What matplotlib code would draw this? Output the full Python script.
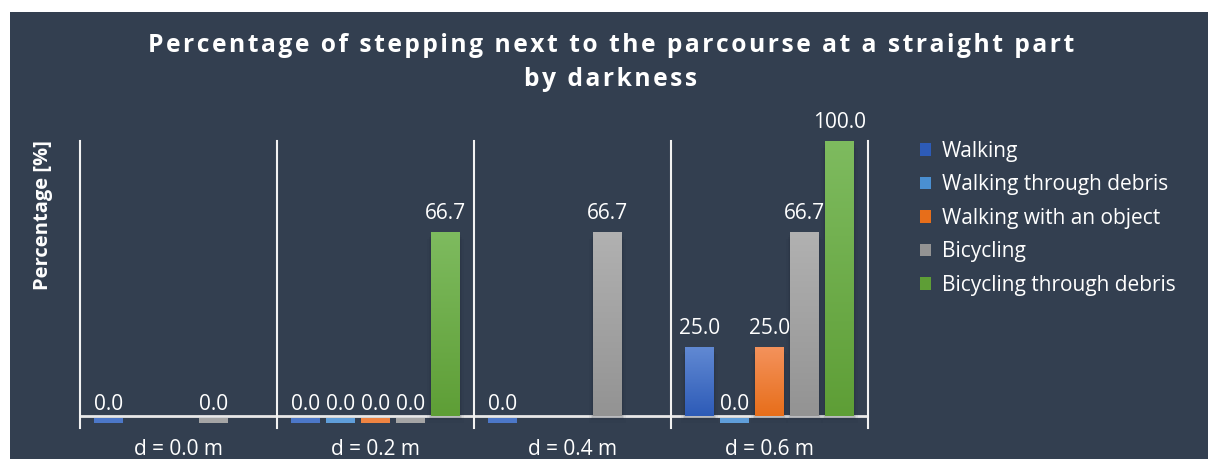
import matplotlib
matplotlib.use("Agg")
import matplotlib.pyplot as plt
import numpy as np
from matplotlib.colors import LinearSegmentedColormap
from matplotlib.patches import Rectangle

# data (None = no bar for that series)
distances = ['d = 0.0 m', 'd = 0.2 m', 'd = 0.4 m', 'd = 0.6 m']
walking = [0.0, 0.0, 0.0, 25.0]
walking_debris = [None, 0.0, None, 0.0]
walking_object = [None, 0.0, None, 25.0]
bicycling = [0.0, 0.0, 66.7, 66.7]
bicycling_debris = [None, 66.7, None, 100.0]

series_names = ['Walking', 'Walking through debris', 'Walking with an object',
                'Bicycling', 'Bicycling through debris']
series_values = [walking, walking_debris, walking_object, bicycling, bicycling_debris]
# (top, bottom) colours of the gradient fill
series_colors = [('#6189D3', '#2D5BB7'),
                 ('#6DA8E0', '#4A8FD1'),
                 ('#F4925C', '#E76E1A'),
                 ('#B1B1B1', '#939393'),
                 ('#7EBB5F', '#5E9E36')]

bg = '#333F50'
fc = 'white'
plt.rcParams['font.family'] = ['Open Sans', 'DejaVu Sans']

fig = plt.figure(figsize=(12.08, 4.59), dpi=100, facecolor='white')
# dark panel behind everything
fig.patches.append(Rectangle((10 / 1208, 0), 1, 1 - 12 / 459, transform=fig.transFigure,
                             facecolor=bg, edgecolor='none', zorder=-10))

ax = fig.add_axes([80 / 1208, 31 / 459, 788 / 1208, 287 / 459])
ax.set_facecolor('none')
ymin, ymax = -4.4, 100
ax.set_xlim(-0.5, len(distances) - 0.5)
ax.set_ylim(ymin, ymax)
for s in ax.spines.values():
    s.set_visible(False)
ax.set_yticks([])
ax.set_xticks(range(len(distances)))
ax.set_xticklabels(distances, color=fc, fontsize=15)
ax.tick_params(axis='x', length=0, pad=8)

# axis line and category separators
ax.axhline(0, color='#E8E8E8', lw=2, zorder=1)
for b in np.arange(-0.5, len(distances), 1.0):
    ax.plot([b, b], [ymin, ymax], color='#F2F2F2', lw=1.5, zorder=1, clip_on=False)

slot = 35 / 197
width = 29 / 197
n = len(series_names)
for i, (name, vals, (ctop, cbot)) in enumerate(zip(series_names, series_values, series_colors)):
    cmap = LinearSegmentedColormap.from_list(name, [cbot, ctop])
    grad = np.linspace(0, 1, 256).reshape(-1, 1)
    for j, v in enumerate(vals):
        if v is None:
            continue
        x0 = j + (i - (n - 1) / 2) * slot - width / 2
        if v > 0:
            # soft shadow, then gradient-filled bar
            for k, a in enumerate([0.10, 0.08, 0.06]):
                ax.add_patch(Rectangle((x0 - 0.006 * (k + 1), -0.8 * (k + 1)), width + 0.012 * (k + 1), v,
                                       facecolor='#1A2230', edgecolor='none', alpha=a, zorder=2))
            ax.imshow(grad, cmap=cmap, origin='lower', aspect='auto',
                      extent=(x0, x0 + width, 0, v), zorder=3, interpolation='bicubic')
        else:
            # zero value: thin stub under the axis line
            ax.add_patch(Rectangle((x0, -0.8), width, -1.8, facecolor=cmap(0.6),
                                   edgecolor='none', zorder=3))
        ax.annotate(f'{v:.1f}', (x0 + width / 2, v), xytext=(0, 1 if v == 0 else 6),
                    textcoords='offset points', ha='center', va='bottom',
                    color=fc, fontsize=15, zorder=5)

ax.set_xlim(-0.5, len(distances) - 0.5)
ax.set_ylim(ymin, ymax)

handles = [Rectangle((0, 0), 1, 1, facecolor=c[1]) for c in series_colors]
leg = fig.legend(handles, series_names, loc='upper left', bbox_to_anchor=(901 / 1208, 1 - 122 / 459),
                 frameon=False, fontsize=15, handlelength=0.55, handleheight=0.55,
                 handletextpad=0.5, labelspacing=0.6)
for t in leg.get_texts():
    t.set_color(fc)

fig.text(43 / 1208, 1 - 215 / 459, 'Percentage [%]', rotation=90, ha='center', va='center',
         color=fc, fontsize=14.5, fontweight='bold')

# title with widened letter spacing
def spaced(s):
    return '\u200a'.join(s)

fig.text(611 / 1208, 1 - 45 / 459, spaced('Percentage of stepping next to the parcourse at a straight part'),
         ha='center', va='center', color=fc, fontsize=17.7, fontweight='bold')
fig.text(611 / 1208, 1 - 80 / 459, spaced('by darkness'),
         ha='center', va='center', color=fc, fontsize=17.7, fontweight='bold')

fig.savefig('out.png', dpi=100, facecolor='white')
